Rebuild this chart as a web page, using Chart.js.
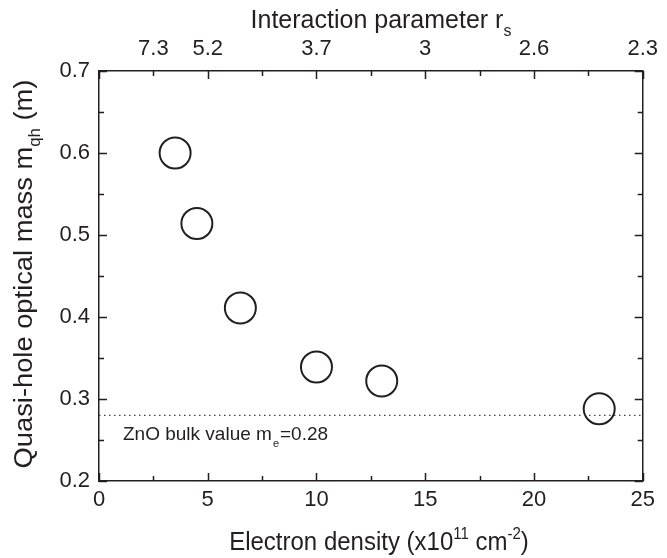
<!DOCTYPE html>
<html>
<head>
<meta charset="utf-8">
<script src="https://cdn.jsdelivr.net/npm/chart.js@4"></script>
<style>
  html, body { margin: 0; padding: 0; background: #fff; }
  #wrap { width: 667px; height: 558px; }
</style>
</head>
<body>
<div id="wrap"><canvas id="massChart" width="667" height="558"></canvas></div>
<script>
// ===== data =====
const density = [3.5, 4.5, 6.5, 10, 13, 23];           // x10^11 cm^-2
const qhMass = [0.600, 0.514, 0.411, 0.339, 0.322, 0.288];
const bulkMass = 0.28;
const bulkRange = [0, 25];
const rsPos = [2.5, 5, 10, 15, 20, 25];                   // top axis tick positions (density)
const rsLabels = ['7.3', '5.2', '3.7', '3', '2.6', '2.3'];

const FONT = '"Liberation Sans", Arial, sans-serif';
const INK = '#231f20';

// draw text with sub/superscript parts: runs = [[text, shift]] shift 0 normal, 1 sup, -1 sub
function drawRich(ctx, runs, x, y, size, rotate, stretch) {
  const small = Math.round(size * 0.62);
  ctx.save();
  ctx.translate(x, y);
  if (rotate) ctx.rotate(-Math.PI / 2);
  if (rotate) ctx.scale(stretch || 1, 1); else ctx.scale(1, stretch || 1);
  let total = 0;
  runs.forEach(r => {
    ctx.font = (r[1] ? small : size) + 'px ' + FONT;
    total += ctx.measureText(r[0]).width;
  });
  let cx = -total / 2;
  ctx.fillStyle = INK;
  ctx.textBaseline = 'alphabetic';
  ctx.textAlign = 'left';
  runs.forEach(r => {
    ctx.font = (r[1] ? small : size) + 'px ' + FONT;
    let dy = 0;
    if (r[1] === 1) dy = -size * 0.45;
    if (r[1] === -1) dy = size * 0.3;
    ctx.fillText(r[0], cx, dy);
    cx += ctx.measureText(r[0]).width;
  });
  ctx.restore();
}

const frameTicks = {
  id: 'frameTicks',
  afterDraw(chart) {
    const ctx = chart.ctx, a = chart.chartArea;
    const xs = chart.scales.x, ys = chart.scales.y;
    ctx.save();
    ctx.strokeStyle = INK;
    ctx.lineWidth = 1.5;
    // x ticks on bottom and top, pointing inward
    for (let v = 0; v <= 25.001; v += 2.5) {
      const px = Math.round(xs.getPixelForValue(v)) + 0.5;
      const len = (Math.abs(v % 5) < 0.01) ? 8 : 5;
      ctx.beginPath();
      ctx.moveTo(px, a.bottom); ctx.lineTo(px, a.bottom - len);
      ctx.moveTo(px, a.top); ctx.lineTo(px, a.top + len);
      ctx.stroke();
    }
    for (let i = 0; i <= 10; i++) {
      const v = 0.2 + i * 0.05;
      const py = Math.round(ys.getPixelForValue(v)) + 0.5;
      const len = (i % 2 === 0) ? 8 : 5;
      ctx.beginPath();
      ctx.moveTo(a.left, py); ctx.lineTo(a.left + len, py);
      ctx.moveTo(a.right, py); ctx.lineTo(a.right - len, py);
      ctx.stroke();
    }
    ctx.restore();

    // axis titles
    drawRich(ctx, [['Electron density (x10', 0], ['11', 1], [' cm', 0], ['-2', 1], [')', 0]],
      379, 550, 24, false, 1.06);
    drawRich(ctx, [['Interaction parameter r', 0], ['s', -1]],
      381, 28, 25, false, 1.06);
    drawRich(ctx, [['Quasi-hole optical mass m', 0], ['qh', -1], [' (m)', 0]],
      32, 274, 26, true, 1.05);

    // reference label
    const lx = 123;
    const ly = 440;
    ctx.save();
    ctx.font = '19px ' + FONT;
    ctx.fillStyle = INK;
    ctx.textAlign = 'left';
    const part1 = 'ZnO bulk value m';
    ctx.fillText(part1, lx, ly);
    let w = ctx.measureText(part1).width;
    ctx.font = '11px ' + FONT;
    ctx.fillText('e', lx + w + 1, ly + 7);
    w += ctx.measureText('e').width + 2;
    ctx.font = '19px ' + FONT;
    ctx.fillText('=0.28', lx + w, ly);
    ctx.restore();
  }
};

function pin(size, key) {
  return function (scale) { scale[key] = size; };
}

new Chart(document.getElementById('massChart'), {
  type: 'scatter',
  data: {
    datasets: [
      {
        label: 'bulk',
        type: 'line',
        data: bulkRange.map(x => ({ x: x, y: bulkMass })),
        borderColor: '#444',
        borderWidth: 1.2,
        borderDash: [1.5, 3.5],
        pointRadius: 0,
        fill: false
      },
      {
        label: 'mqh',
        data: density.map((x, i) => ({ x: x, y: qhMass[i] })),
        pointStyle: 'circle',
        pointRadius: 15.5,
        pointBorderWidth: 2,
        pointBorderColor: INK,
        pointBackgroundColor: 'rgba(255,255,255,0)',
        showLine: false
      }
    ]
  },
  options: {
    responsive: false,
    animation: false,
    layout: { padding: 0 },
    plugins: { legend: { display: false }, tooltip: { enabled: false } },
    scales: {
      x: {
        type: 'linear', position: 'bottom', min: 0, max: 25,
        ticks: { stepSize: 5, color: INK, font: { family: FONT, size: 22 }, padding: 6, maxRotation: 0 },
        grid: { display: false, drawTicks: false },
        border: { display: true, color: INK, width: 1.5 },
        afterFit: pin(77, 'height')
      },
      x2: {
        type: 'linear', position: 'top', min: 0, max: 25,
        afterBuildTicks: s => { s.ticks = rsPos.map(v => ({ value: v })); },
        ticks: {
          color: INK, font: { family: FONT, size: 22 }, padding: 9, maxRotation: 0, autoSkip: false,
          callback: (v, i) => rsLabels[i]
        },
        grid: { display: false, drawTicks: false },
        border: { display: true, color: INK, width: 1.5 },
        afterFit: pin(71, 'height')
      },
      y: {
        type: 'linear', position: 'left', min: 0.2, max: 0.7,
        ticks: { stepSize: 0.1, color: INK, font: { family: FONT, size: 22 }, padding: 9,
          callback: v => v.toFixed(1) },
        grid: { display: false, drawTicks: false },
        border: { display: true, color: INK, width: 1.5 },
        afterFit: pin(99, 'width')
      },
      y2: {
        type: 'linear', position: 'right', min: 0.2, max: 0.7,
        ticks: { display: false },
        grid: { display: false, drawTicks: false },
        border: { display: true, color: INK, width: 1.5 },
        afterFit: pin(17, 'width')
      }
    }
  },
  plugins: [frameTicks]
});
</script>
</body>
</html>
